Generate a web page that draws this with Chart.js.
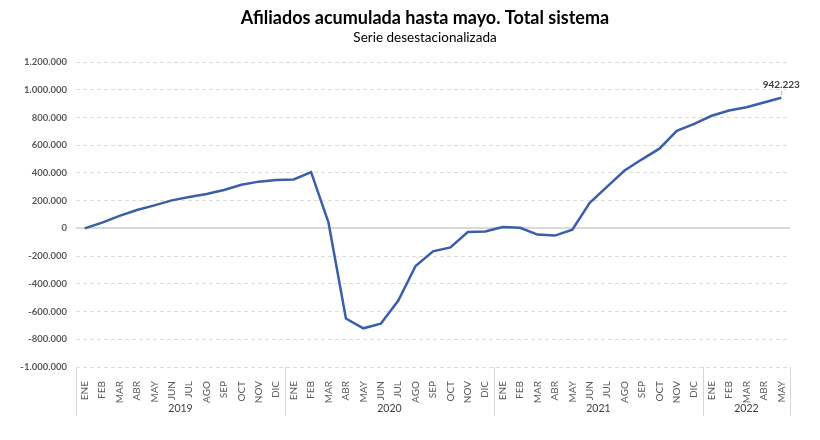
<!DOCTYPE html>
<html>
<head>
<meta charset="utf-8">
<script src="https://cdn.jsdelivr.net/npm/chart.js@4.4.0/dist/chart.umd.min.js"></script>
<style>
  html, body { margin: 0; padding: 0; background: #fff; }
  #wrap { width: 820px; height: 440px; }
</style>
</head>
<body>
<div id="wrap"><canvas id="chart1"></canvas></div>
<script>
var chartTitle = 'Afiliados acumulada hasta mayo. Total sistema';
var chartSubtitle = 'Serie desestacionalizada';
var monthNames = ['ENE','FEB','MAR','ABR','MAY','JUN','JUL','AGO','SEP','OCT','NOV','DIC'];
var years = ['2019', '2020', '2021', '2022'];
var monthsPerYear = [12, 12, 12, 5];

var afiliados2019 = [0, 41000, 90000, 132000, 166000, 202000, 226000, 248000, 277000, 315000, 337000, 349000];
var afiliados2020 = [353000, 405000, 41000, -650000, -721000, -688000, -522000, -271000, -166000, -137000, -26000, -22000];
var afiliados2021 = [10000, 4000, -45000, -52000, -9000, 185000, 301000, 417000, 498000, 575000, 703000, 754000];
var afiliados2022 = [812000, 850000, 874000, 908000, 942223];

var yTicksMin = -1000000, yTicksMax = 1200000, yStep = 200000;

var labels = [];
for (var i = 0; i < years.length; i++) {
    for (var j = 0; j < monthsPerYear[i]; j++) {
        labels.push(monthNames[j]);
    }
}
var values = afiliados2019.concat(afiliados2020, afiliados2021, afiliados2022);

var fontFamily = 'Lato, "Open Sans", sans-serif';

function fmt(v) {
    var s = Math.abs(v).toString().replace(/\B(?=(\d{3})+(?!\d))/g, '.');
    return (v < 0 ? '-' : '') + s;
}

// title + subtitle, centred a bit right of the canvas middle like the original
var titlePlugin = {
    id: 'titles',
    afterDraw: function (chart) {
        var ctx = chart.ctx;
        ctx.save();
        ctx.fillStyle = '#000';
        ctx.textAlign = 'center';
        ctx.textBaseline = 'middle';
        ctx.font = 'bold 18px ' + fontFamily;
        ctx.fillText(chartTitle, 425, 18);
        ctx.font = '13.5px ' + fontFamily;
        ctx.fillText(chartSubtitle, 425, 38);
        ctx.restore();
    }
};

// year groups + separators under the month labels
var yearAxisPlugin = {
    id: 'yearAxis',
    afterDraw: function (chart) {
        var ctx = chart.ctx, x = chart.scales.x, area = chart.chartArea;
        var half = (x.getPixelForValue(1) - x.getPixelForValue(0)) / 2;
        var idx = 0;
        ctx.save();
        ctx.strokeStyle = '#d4d4d4';
        ctx.lineWidth = 1;
        ctx.fillStyle = '#404040';
        ctx.font = '10.5px ' + fontFamily;
        ctx.textAlign = 'center';
        ctx.textBaseline = 'middle';
        for (var i = 0; i < years.length; i++) {
            var left = x.getPixelForValue(idx) - half;
            var right = x.getPixelForValue(idx + monthsPerYear[i] - 1) + half;
            ctx.beginPath();
            ctx.moveTo(Math.round(left) + 0.5, area.bottom);
            ctx.lineTo(Math.round(left) + 0.5, 416);
            ctx.stroke();
            if (i === years.length - 1) {
                ctx.beginPath();
                ctx.moveTo(Math.round(right) + 0.5, area.bottom);
                ctx.lineTo(Math.round(right) + 0.5, 416);
                ctx.stroke();
            }
            ctx.fillText(years[i], (left + right) / 2, 409);
            idx += monthsPerYear[i];
        }
        ctx.restore();
    }
};

// label on the last point
var lastLabelPlugin = {
    id: 'lastLabel',
    afterDatasetsDraw: function (chart) {
        var meta = chart.getDatasetMeta(0);
        var pt = meta.data[meta.data.length - 1];
        var ctx = chart.ctx;
        ctx.save();
        ctx.strokeStyle = '#a6a6a6';
        ctx.lineWidth = 1;
        ctx.beginPath();
        ctx.moveTo(pt.x + 0.5, pt.y - 3);
        ctx.lineTo(pt.x + 0.5, pt.y - 7);
        ctx.stroke();
        ctx.fillStyle = '#404040';
        ctx.font = 'bold 10px ' + fontFamily;
        ctx.textAlign = 'center';
        ctx.textBaseline = 'middle';
        ctx.fillText(fmt(values[values.length - 1]), pt.x, pt.y - 13);
        ctx.restore();
    }
};

var ctx = document.getElementById('chart1');
new Chart(ctx, {
    type: 'line',
    data: {
        labels: labels,
        datasets: [{
            label: 'Afiliados',
            data: values,
            borderColor: '#3b5ea9',
            borderWidth: 2.5,
            pointRadius: 0,
            tension: 0,
            fill: false
        }]
    },
    options: {
        responsive: true,
        maintainAspectRatio: false,
        animation: false,
        layout: { padding: { top: 62, right: 30, bottom: 13, left: 0 } },
        plugins: {
            legend: { display: false },
            tooltip: { enabled: false },
            title: { display: false }
        },
        scales: {
            x: {
                offset: true,
                grid: { display: false },
                border: { display: false },
                ticks: {
                    autoSkip: false,
                    minRotation: 90,
                    maxRotation: 90,
                    padding: 6,
                    color: '#595959',
                    font: { family: fontFamily, size: 10 }
                },
                afterFit: function (scale) { scale.height = 60; }
            },
            y: {
                min: yTicksMin,
                max: yTicksMax,
                ticks: {
                    stepSize: yStep,
                    padding: 9,
                    color: '#595959',
                    font: { family: fontFamily, size: 9.5, weight: 'bold' },
                    callback: function (v) { return fmt(v); }
                },
                grid: {
                    drawTicks: false,
                    color: function (c) { return c.tick && c.tick.value === 0 ? '#d9d9d9' : '#dcdcdc'; },
                    lineWidth: function (c) { return c.tick && c.tick.value === 0 ? 2 : 1; }
                },
                border: {
                    display: false,
                    dash: function (c) { return c.tick && c.tick.value === 0 ? [] : [4, 3]; }
                },
                afterFit: function (scale) { scale.width = 76; }
            }
        }
    },
    plugins: [yearAxisPlugin, lastLabelPlugin, titlePlugin]
});
</script>
</body>
</html>
